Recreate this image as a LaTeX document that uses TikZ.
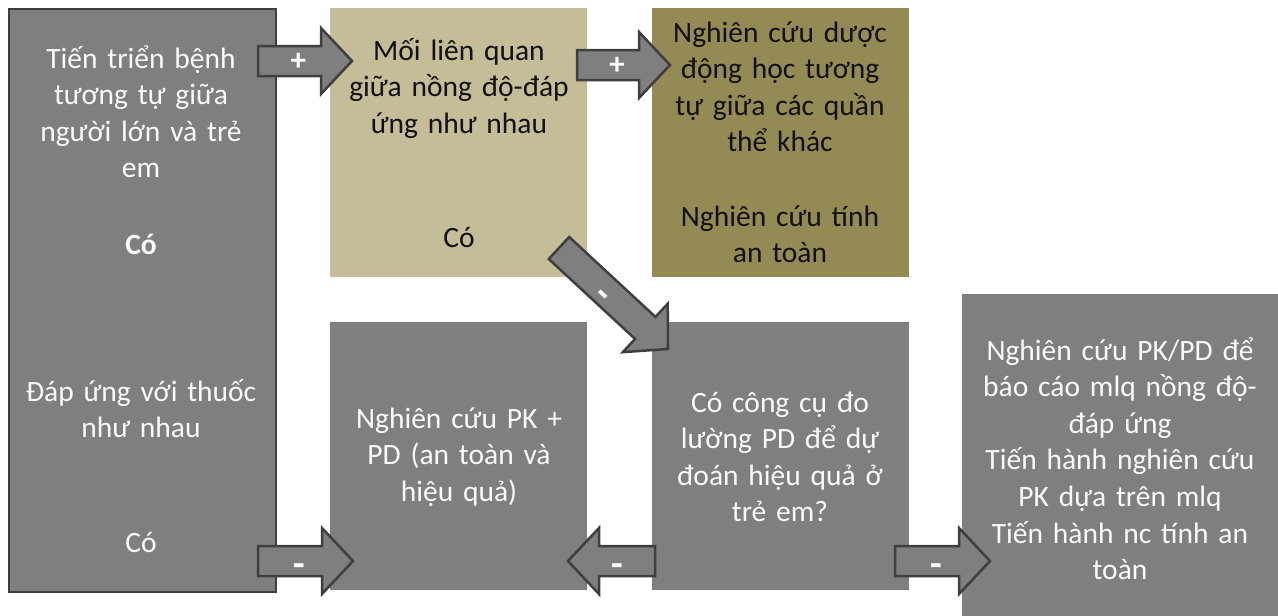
\documentclass[tikz,border=0pt]{standalone}
\usepackage{fontspec}
\setmainfont{Carlito}
\usetikzlibrary{calc}
\definecolor{boxgray}{HTML}{7F7F7F}
\definecolor{cTan}{HTML}{C4BD97}
\definecolor{cOlive}{HTML}{948A54}
\definecolor{cEdge}{HTML}{3F3F3F}
\definecolor{cText}{HTML}{111111}
\definecolor{wText}{HTML}{FAFAFA}
\tikzset{
  box/.style={anchor=north west, inner sep=0pt, draw=none},
  txt/.style={font=\fontsize{29.5}{36.6}\selectfont, align=center, anchor=base, inner sep=0pt, text width=310pt},
  wtxt/.style={txt, text=wText},
  ktxt/.style={txt, text=cText},
  barrowstyle/.style={fill=boxgray, draw=cEdge, line width=2.5pt, line join=miter},
  arrlabel/.style={text=white, font=\bfseries\fontsize{31}{31}\selectfont, inner sep=0pt, anchor=center},
  minuslabel/.style={font=\bfseries\fontsize{38}{38}\selectfont, yshift=-9pt}
}
% #1 from, #2 to, #3 label, #4 label name, #5 extra label options
\newcommand\blockarrow[5]{%
  \draw[barrowstyle] let \p1=($(#2)-(#1)$), \n1={atan2(\y1,\x1)}, \n2={veclen(\x1,\y1)} in
    [shift={(#1)}, rotate=\n1]
    (0,-15) -- (\n2-31,-15) -- (\n2-31,-33) -- (\n2,0) -- (\n2-31,33) -- (\n2-31,15) -- (0,15) -- cycle
    (0.43*\n2,0) node[arrlabel, #5] (#4) {#3};
}
\begin{document}
\begin{tikzpicture}[x=1pt,y=-1pt]
\useasboundingbox (0,0) rectangle (1278,616);
% boxes
\node[box, fill=boxgray, draw=cEdge, line width=2pt, minimum width=267, minimum height=583] (b1) at (8,8) {};
\node[box, fill=cTan, minimum width=257, minimum height=269] (b2) at (330,8) {};
\node[box, fill=cOlive, minimum width=257, minimum height=269] (b3) at (652,8) {};
\node[box, fill=boxgray, minimum width=257, minimum height=268] (b4) at (330,322) {};
\node[box, fill=boxgray, minimum width=257, minimum height=268] (b5) at (652,322) {};
\node[box, fill=boxgray, minimum width=316, minimum height=322] (b6) at (962,294) {};
% texts
\node[wtxt] (t1a) at (141,68) {Tiến triển bệnh\\tương tự giữa\\người lớn và trẻ\\em};
\node[wtxt, font=\fontsize{29.5}{36.6}\selectfont\bfseries] (t1b) at (141,254) {Có};
\node[wtxt] (t1c) at (141,401) {Đáp ứng với thuốc\\như nhau};
\node[wtxt] (t1d) at (141,552) {Có};
\node[ktxt] (t2a) at (459,60) {Mối liên quan\\giữa nồng độ-đáp\\ứng như nhau};
\node[ktxt] (t2b) at (459,247) {Có};
\node[ktxt] (t3a) at (780,42) {Nghiên cứu dược\\động học tương\\tự giữa các quần\\thể khác};
\node[ktxt] (t3b) at (780,226) {Nghiên cứu tính\\an toàn};
\node[wtxt] (t4) at (459,428) {Nghiên cứu PK +\\PD (an toàn và\\hiệu quả)};
\node[wtxt] (t5) at (780,412) {Có công cụ đo\\lường PD để dự\\đoán hiệu quả ở\\trẻ em?};
\node[wtxt] (t6) at (1120,360) {Nghiên cứu PK/PD để\\báo cáo mlq nồng độ-\\đáp ứng\\Tiến hành nghiên cứu\\PK dựa trên mlq\\Tiến hành nc tính an\\toàn};
% arrow end points
\coordinate (a1s) at (258,61);  \coordinate (a1e) at (352,61);
\coordinate (a2s) at (577,65);  \coordinate (a2e) at (670,65);
\coordinate (a3s) at (559,248); \coordinate (a3e) at (668,349);
\coordinate (a4s) at (258,561); \coordinate (a4e) at (353,561);
\coordinate (a5s) at (655,561); \coordinate (a5e) at (568,561);
\coordinate (a6s) at (895,561); \coordinate (a6e) at (990,561);
\blockarrow{a1s}{a1e}{+}{l1}{yshift=-1pt}
\blockarrow{a2s}{a2e}{+}{l2}{yshift=-1pt}
\blockarrow{a3s}{a3e}{-}{l3}{minuslabel, transform shape}
\blockarrow{a4s}{a4e}{-}{l4}{minuslabel}
\blockarrow{a5s}{a5e}{-}{l5}{minuslabel}
\blockarrow{a6s}{a6e}{-}{l6}{minuslabel}
\end{tikzpicture}
\end{document}
